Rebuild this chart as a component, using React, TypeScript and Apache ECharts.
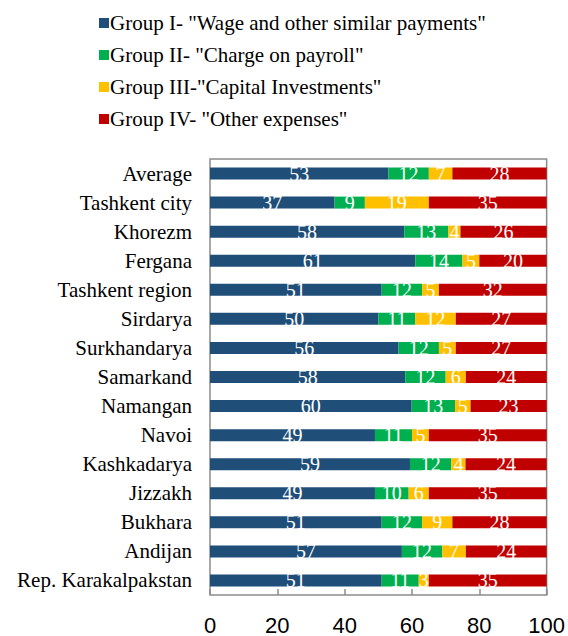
import React, { useEffect, useRef } from "react";
import * as echarts from "echarts";

// Bottom-to-top order (ECharts category axis starts at the bottom)
const regions = [
  "Rep. Karakalpakstan",
  "Andijan",
  "Bukhara",
  "Jizzakh",
  "Kashkadarya",
  "Navoi",
  "Namangan",
  "Samarkand",
  "Surkhandarya",
  "Sirdarya",
  "Tashkent region",
  "Fergana",
  "Khorezm",
  "Tashkent city",
  "Average",
];

const groupI = [51, 57, 51, 49, 59.4, 49, 59.9, 58, 56, 50, 51, 61, 57.7, 37, 53];
const groupII = [11, 12, 12, 10, 12.3, 11, 12.9, 12, 12, 11, 12, 14, 13.1, 9, 12];
const groupIII = [3, 7, 9, 6, 4.2, 5, 4.6, 6, 5, 12, 5, 5, 3.6, 19, 7];
const groupIV = [35, 24, 28, 35, 24.1, 35, 22.6, 24, 27, 27, 32, 20, 25.6, 35, 28];

const seriesNames = [
  'Group I- "Wage and other similar payments"',
  'Group II- "Charge on payroll"',
  'Group III-"Capital Investments"',
  'Group IV- "Other expenses"',
];
const colors = ["#1F4E79", "#00B050", "#FFC000", "#C00000"];
const xTicks = [0, 20, 40, 60, 80, 100];

const SERIF = "Liberation Serif";
const SANS = "Liberation Sans";

export default function App() {
  const ref = useRef<HTMLDivElement>(null);
  useEffect(() => {
    document.body.style.margin = "0";
    const chart = echarts.init(ref.current!, undefined, { renderer: "svg" });
    const datasets = [groupI, groupII, groupIII, groupIV];
    chart.setOption({
      animation: false,
      color: colors,
      legend: {
        orient: "vertical",
        left: 94,
        top: 7,
        itemWidth: 10,
        itemHeight: 10,
        itemGap: 10,
        icon: "rect",
        textStyle: {
          fontFamily: SERIF,
          fontSize: 21,
          color: "#000",
          lineHeight: 22,
          padding: [0, 0, 0, -4],
        },
        data: seriesNames,
      },
      grid: {
        left: 210,
        right: 19,
        top: 159,
        bottom: 40,
        show: true,
        borderColor: "#8c8c8c",
        borderWidth: 1.5,
        containLabel: false,
      },
      xAxis: {
        type: "value",
        min: 0,
        max: 100,
        interval: 20,
        axisLine: { show: false },
        axisTick: { show: true, inside: true, length: 6, lineStyle: { color: "#8c8c8c", width: 1.5 } },
        splitLine: { show: false },
        axisLabel: {
          margin: 19,
          fontFamily: SANS,
          fontSize: 22,
          color: "#000",
          formatter: (v: number) => (xTicks.includes(v) ? String(v) : ""),
        },
      },
      yAxis: {
        type: "category",
        data: regions,
        axisLine: { show: false },
        axisTick: { show: false },
        axisLabel: {
          margin: 18,
          fontFamily: SERIF,
          fontSize: 21,
          color: "#000",
        },
      },
      series: datasets.map((d, i) => ({
        name: seriesNames[i],
        type: "bar",
        stack: "total",
        barWidth: 12,
        data: d,
        itemStyle: { color: colors[i] },
        label: {
          show: true,
          position: "inside",
          color: "#fff",
          fontFamily: SERIF,
          fontSize: 20,
          formatter: (p: any) => String(Math.round(p.value)),
        },
      })),
    });
    return () => chart.dispose();
  }, []);
  return <div ref={ref} style={{ width: 568, height: 636 }} />;
}
